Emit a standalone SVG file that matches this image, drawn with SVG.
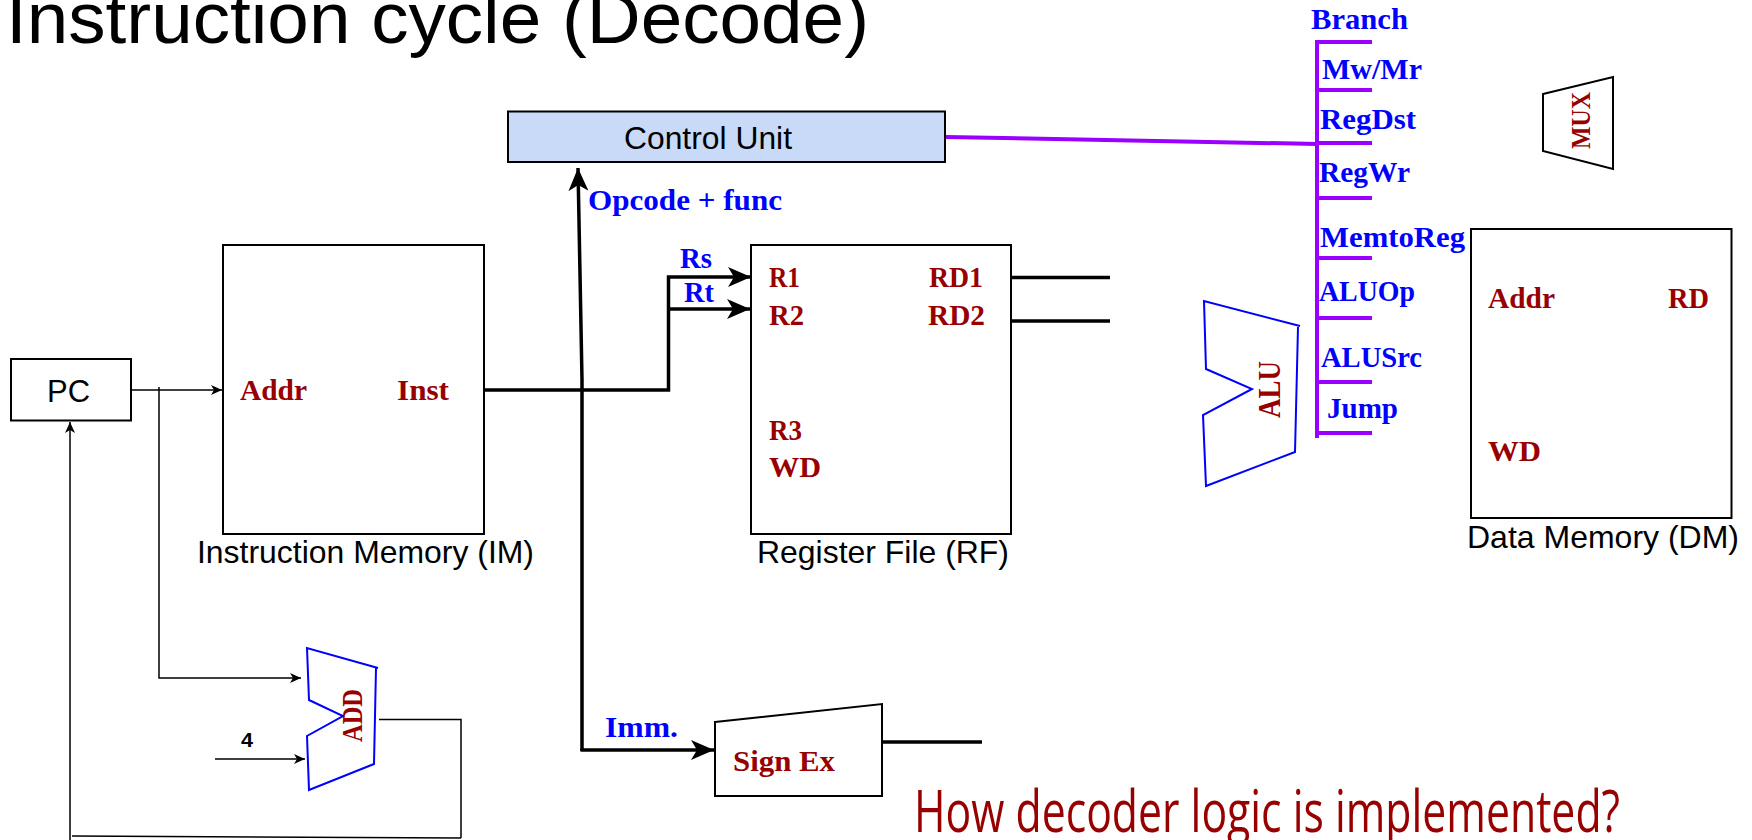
<svg xmlns="http://www.w3.org/2000/svg" width="1752" height="840" viewBox="0 0 1752 840">
<style>
text{font-family:"Liberation Serif",serif;font-weight:700}
.r{fill:#980000;font-size:30px}
.b{fill:#0000ff;font-size:30px}
.s{font-family:"Liberation Sans",Arial,sans-serif;font-weight:400;fill:#000;font-size:32px}
.box{fill:#fff;stroke:#000;stroke-width:2}
.blue{fill:none;stroke:#0000ff;stroke-width:2}
.w1{fill:none;stroke:#000;stroke-width:1.500}
.w3{fill:none;stroke:#000;stroke-width:3.500}
.p{fill:none;stroke:#9900ff;stroke-width:4}
</style>
<defs>
<marker id="big" markerUnits="userSpaceOnUse" markerWidth="24" markerHeight="20" refX="23" refY="10" orient="auto" viewBox="0 0 24 20"><path d="M0 0L23 10L0 20L6 10Z" fill="#000"/></marker>
<marker id="small" markerUnits="userSpaceOnUse" markerWidth="12" markerHeight="10" refX="11" refY="5" orient="auto" viewBox="0 0 12 10"><path d="M0 0L11 5L0 10L3 5Z" fill="#000"/></marker>
</defs>
<text id="title" x="6" y="43" class="s" style="font-size:73px" textLength="863" lengthAdjust="spacingAndGlyphs">Instruction cycle (Decode)</text>

<g id="connectors">
<path class="w1" d="M131 390H222" marker-end="url(#small)"/>
<path class="w1" d="M159 387V678H301" marker-end="url(#small)"/>
<path class="w1" d="M215 759H305" marker-end="url(#small)"/>
<path class="w1" d="M379 719.500H461V838"/>
<path class="w1" d="M461 838L72 836"/>
<path class="w1" d="M70 840V422" marker-end="url(#small)"/>
<path class="w3" d="M484 390H668.500V277H751" marker-end="url(#big)"/>
<path class="w3" d="M668.500 309H750" marker-end="url(#big)"/>
<path class="w3" d="M582 751V380L578 168" marker-end="url(#big)"/>
<path class="w3" d="M580.500 750H714" marker-end="url(#big)"/>
<path class="w3" d="M1011 277.500H1110"/>
<path class="w3" d="M1011 321H1110"/>
<path class="w3" d="M882 742H982"/>
<path class="p" d="M946 137L1318 144"/>
<path class="p" d="M1372 42H1317V438M1317 90H1372M1317 143H1372M1317 198H1372M1317 258H1372M1317 318H1372M1317 382H1372M1317 433H1372"/>
</g>

<g id="pc"><rect class="box" x="11" y="359" width="120" height="61.500"/><text class="s" x="47" y="402" textLength="43" lengthAdjust="spacingAndGlyphs">PC</text></g>

<g id="im"><rect class="box" x="223" y="245" width="261" height="289"/>
<text class="r" x="240" y="400" textLength="67" lengthAdjust="spacingAndGlyphs">Addr</text>
<text class="r" x="397" y="400" textLength="52" lengthAdjust="spacingAndGlyphs">Inst</text>
<text class="s" x="197" y="563" textLength="337" lengthAdjust="spacingAndGlyphs">Instruction Memory (IM)</text></g>

<g id="cu"><rect x="508" y="111.500" width="437" height="50.500" fill="#c9daf8" stroke="#000" stroke-width="2"/><text class="s" x="624" y="149" textLength="168" lengthAdjust="spacingAndGlyphs">Control Unit</text></g>
<text class="b" x="588" y="210" textLength="194" lengthAdjust="spacingAndGlyphs">Opcode + func</text>

<g id="rf"><rect class="box" x="751" y="245" width="260" height="289"/>
<text class="r" x="769" y="287" textLength="31" lengthAdjust="spacingAndGlyphs">R1</text>
<text class="r" x="769" y="325" textLength="35" lengthAdjust="spacingAndGlyphs">R2</text>
<text class="r" x="929" y="287" textLength="54" lengthAdjust="spacingAndGlyphs">RD1</text>
<text class="r" x="928" y="325" textLength="57" lengthAdjust="spacingAndGlyphs">RD2</text>
<text class="r" x="769" y="440" textLength="33" lengthAdjust="spacingAndGlyphs">R3</text>
<text class="r" x="769" y="477" textLength="52" lengthAdjust="spacingAndGlyphs">WD</text>
<text class="s" x="757" y="563" textLength="252" lengthAdjust="spacingAndGlyphs">Register File (RF)</text></g>
<text class="b" x="680" y="268" textLength="32" lengthAdjust="spacingAndGlyphs">Rs</text>
<text class="b" x="684" y="302" textLength="30" lengthAdjust="spacingAndGlyphs">Rt</text>

<g id="alu"><path class="blue" d="M1300 326L1204 301L1206 369L1252 389L1203 415L1206 486L1295 452L1298 327"/><text class="r" style="font-size:32px" transform="translate(1280 418) rotate(-90)" textLength="57" lengthAdjust="spacingAndGlyphs">ALU</text></g>

<g id="add"><path class="blue" d="M378 668L307 648L309 700L343 716L307 736L309 790L374 764L376 668"/><text class="r" style="font-size:29px" transform="translate(362 742) rotate(-90)" textLength="53" lengthAdjust="spacingAndGlyphs">ADD</text></g>
<text x="241" y="747" style="font-family:'Liberation Sans',sans-serif;font-size:20px" textLength="12" lengthAdjust="spacingAndGlyphs">4</text>

<g id="signex"><path d="M715 722L882 704V796H715Z" fill="#fff" stroke="#000" stroke-width="2"/><text class="r" x="733" y="771" textLength="102" lengthAdjust="spacingAndGlyphs">Sign Ex</text></g>
<text class="b" x="605" y="737" textLength="73" lengthAdjust="spacingAndGlyphs">Imm.</text>

<g id="mux"><path d="M1543 94L1613 77V169L1543 151Z" fill="#fff" stroke="#000" stroke-width="2"/><text class="r" style="font-size:27px" transform="translate(1590 149) rotate(-90)" textLength="57" lengthAdjust="spacingAndGlyphs">MUX</text></g>

<g id="dm"><rect class="box" x="1471" y="229" width="260.500" height="289"/>
<text class="r" x="1488" y="308" textLength="67" lengthAdjust="spacingAndGlyphs">Addr</text>
<text class="r" x="1668" y="308" textLength="41" lengthAdjust="spacingAndGlyphs">RD</text>
<text class="r" x="1488" y="461" textLength="53" lengthAdjust="spacingAndGlyphs">WD</text>
<text class="s" x="1467" y="548" textLength="272" lengthAdjust="spacingAndGlyphs">Data Memory (DM)</text></g>

<g id="signals">
<text class="b" x="1311" y="29" textLength="97" lengthAdjust="spacingAndGlyphs">Branch</text>
<text class="b" x="1322" y="79" textLength="100" lengthAdjust="spacingAndGlyphs">Mw/Mr</text>
<text class="b" x="1320" y="129" textLength="96" lengthAdjust="spacingAndGlyphs">RegDst</text>
<text class="b" x="1319" y="182" textLength="91" lengthAdjust="spacingAndGlyphs">RegWr</text>
<text class="b" x="1320" y="247" textLength="145" lengthAdjust="spacingAndGlyphs">MemtoReg</text>
<text class="b" x="1319" y="301" textLength="96" lengthAdjust="spacingAndGlyphs">ALUOp</text>
<text class="b" x="1321" y="367" textLength="101" lengthAdjust="spacingAndGlyphs">ALUSrc</text>
<text class="b" x="1327" y="418" textLength="71" lengthAdjust="spacingAndGlyphs">Jump</text>
</g>

<text id="question" x="914" y="832" style="font-family:'Open Sans',sans-serif;font-weight:400;font-size:58px;fill:#980000" textLength="706" lengthAdjust="spacingAndGlyphs">How decoder logic is implemented?</text>
</svg>
